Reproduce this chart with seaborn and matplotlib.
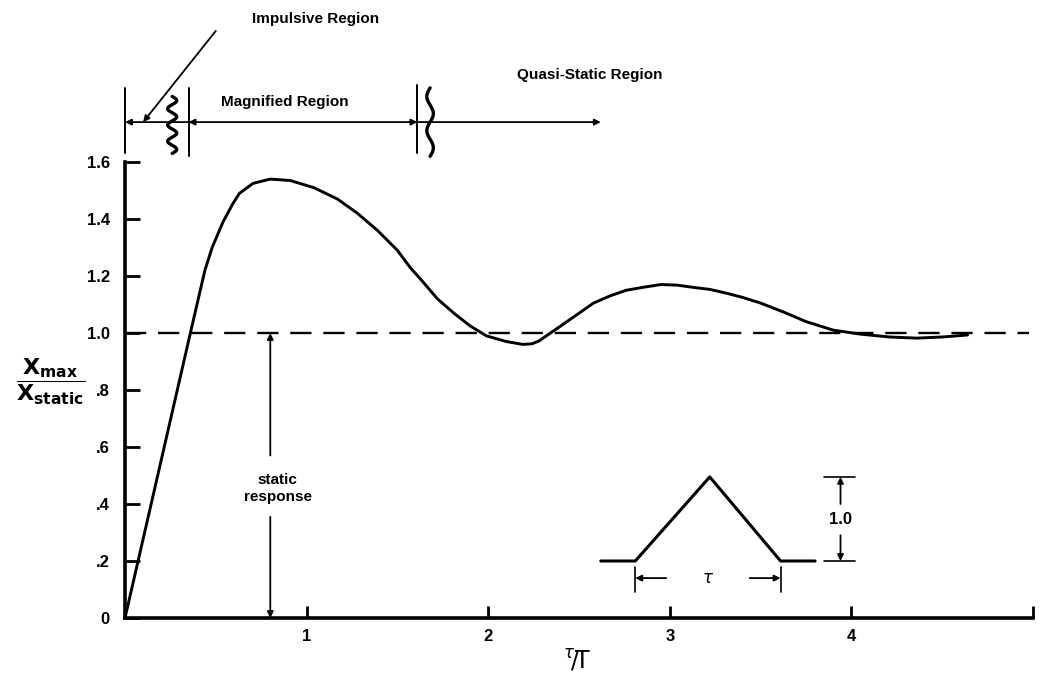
import numpy as np
import pandas as pd
import matplotlib
matplotlib.use("Agg")
import matplotlib.pyplot as plt
import seaborn as sns

# ---- data ----
ratio_t_T = [0.0, 0.36, 0.44, 0.48, 0.54, 0.595, 0.63, 0.705, 0.80, 0.91, 1.04,
             1.17, 1.28, 1.39, 1.50, 1.57, 1.64, 1.72, 1.81, 1.90, 1.99, 2.10,
             2.19, 2.24, 2.28, 2.32, 2.40, 2.49, 2.58, 2.67, 2.76, 2.85, 2.95, 3.04,
             3.13, 3.22, 3.31, 3.40, 3.50, 3.64, 3.75, 3.90, 4.05, 4.21, 4.36,
             4.50, 4.64]
response = [0.0, 1.00, 1.22, 1.30, 1.39, 1.455, 1.49, 1.525, 1.54, 1.535, 1.51,
            1.47, 1.42, 1.36, 1.29, 1.23, 1.18, 1.12, 1.07, 1.025, 0.99, 0.97,
            0.96, 0.962, 0.972, 0.99, 1.025, 1.065, 1.105, 1.13, 1.15, 1.16, 1.17,
            1.168, 1.16, 1.153, 1.14, 1.125, 1.105, 1.07, 1.04, 1.01, 0.996, 0.986,
            0.982, 0.986, 0.993]
static_level = 1.0
xtick_vals = [1, 2, 3, 4, 5]
xtick_labels = ["1", "2", "3", "4", ""]
ytick_vals = [0, 0.2, 0.4, 0.6, 0.8, 1.0, 1.2, 1.4, 1.6]
ytick_labels = ["0", ".2", ".4", ".6", ".8", "1.0", "1.2", "1.4", "1.6"]
pulse_x = [2.62, 2.81, 3.22, 3.61, 3.80]
pulse_y = [0.20, 0.20, 0.495, 0.20, 0.20]

sns.set_style("white")
plt.rcParams["font.family"] = ["Liberation Sans", "DejaVu Sans"]
plt.rcParams["mathtext.fontset"] = "dejavusans"
plt.rcParams["text.color"] = "black"

fig = plt.figure(figsize=(10.52, 6.74), dpi=100)
ax = fig.add_axes([125 / 1052, 1 - 618 / 674, (1033 - 125) / 1052, (618 - 162) / 674])

df = pd.DataFrame({"x": ratio_t_T, "y": response})
sns.lineplot(data=df, x="x", y="y", ax=ax, color="black", lw=2.1, sort=False)
ax.axhline(static_level, xmin=0, xmax=4.98 / 5, color="black", lw=1.7,
           dashes=(9, 5))

ax.set_xlim(0, 5)
ax.set_ylim(0, 1.6)
for s in ["top", "right"]:
    ax.spines[s].set_visible(False)
for s in ["left", "bottom"]:
    ax.spines[s].set_linewidth(2.6)
    ax.spines[s].set_color("black")

ax.set_xticks(xtick_vals)
ax.set_xticklabels(xtick_labels, fontsize=12, fontweight="bold")
ax.set_yticks(ytick_vals)
ax.set_yticklabels(ytick_labels, fontsize=12, fontweight="bold")
ax.tick_params(axis="y", direction="in", length=11, width=2, pad=11,
               colors="black", left=True)
ax.tick_params(axis="x", direction="in", length=9, width=2, pad=8,
               colors="black", bottom=True)
ax.set_xlabel("")
ax.set_ylabel("")

# axis labels
ax.text(-0.41, 0.83, r"$\dfrac{\mathbf{X}_{\mathbf{max}}}{\mathbf{X}_{\mathbf{static}}}$",
        fontsize=16, ha="center", va="center", color="black")
ax.text(2.49, -0.15, r"$^{\tau}\!/\!\mathrm{T}$", fontsize=17, ha="center",
        va="center", family="DejaVu Serif", color="black")

arr = dict(arrowstyle="-|>", color="black", lw=1.3, mutation_scale=9,
           shrinkA=0, shrinkB=0)
arr2 = dict(arrowstyle="<|-|>", color="black", lw=1.3, mutation_scale=9,
            shrinkA=0, shrinkB=0)

# static response arrows
ax.annotate("", xy=(0.80, 1.0), xytext=(0.80, 0.57), arrowprops=arr)
ax.annotate("", xy=(0.80, 0.0), xytext=(0.80, 0.355), arrowprops=arr)
ax.text(0.84, 0.455, "static\nresponse", ha="center", va="center",
        fontsize=11, fontweight="bold", linespacing=1.3, color="black")

# inset pulse
ax.plot(pulse_x, pulse_y, color="black", lw=2.2)
ax.plot([3.85, 4.02], [0.495, 0.495], color="black", lw=1.2)
ax.plot([3.85, 4.02], [0.20, 0.20], color="black", lw=1.2)
ax.annotate("", xy=(3.94, 0.495), xytext=(3.94, 0.40), arrowprops=arr)
ax.annotate("", xy=(3.94, 0.20), xytext=(3.94, 0.29), arrowprops=arr)
ax.text(3.94, 0.345, "1.0", ha="center", va="center", fontsize=12,
        fontweight="bold", color="black")
ax.plot([2.81, 2.81], [0.09, 0.18], color="black", lw=1.2)
ax.plot([3.61, 3.61], [0.09, 0.18], color="black", lw=1.2)
ax.annotate("", xy=(2.81, 0.14), xytext=(2.98, 0.14), arrowprops=arr)
ax.annotate("", xy=(3.61, 0.14), xytext=(3.44, 0.14), arrowprops=arr)
ax.text(3.21, 0.14, r"$\tau$", ha="center", va="center", fontsize=12, color="black")

# top region annotations (outside axes)
kw = dict(color="black", lw=1.4, clip_on=False)
for xv, y0, y1 in [(0.0, 1.63, 1.86), (0.35, 1.62, 1.86), (1.61, 1.63, 1.87)]:
    ax.plot([xv, xv], [y0, y1], **kw)
ax.annotate("", xy=(0.0, 1.74), xytext=(0.35, 1.74), arrowprops=arr,
            annotation_clip=False)
ax.annotate("", xy=(0.35, 1.74), xytext=(1.61, 1.74), arrowprops=arr2,
            annotation_clip=False)
ax.annotate("", xy=(2.62, 1.74), xytext=(1.61, 1.74), arrowprops=arr,
            annotation_clip=False)
ax.annotate("", xy=(0.10, 1.74), xytext=(0.50, 2.06), arrowprops=arr,
            annotation_clip=False)

# decorative break squiggles
t = np.linspace(0, 1, 80)
ax.plot(0.26 + 0.025 * np.sin(t * 2 * np.pi * 3.5), 1.63 + 0.20 * t,
        color="black", lw=2.4, clip_on=False)
ax.plot(1.68 + 0.018 * np.sin(t * 2 * np.pi * 2.0), 1.62 + 0.24 * t,
        color="black", lw=2.4, clip_on=False)

ax.text(1.05, 2.10, "Impulsive Region", ha="center", va="center",
        fontsize=11, fontweight="bold", clip_on=False, color="black")
ax.text(0.88, 1.81, "Magnified Region", ha="center", va="center",
        fontsize=11, fontweight="bold", clip_on=False, color="black")
ax.text(2.56, 1.905, "Quasi-Static Region", ha="center", va="center",
        fontsize=11, fontweight="bold", clip_on=False, color="black")

fig.savefig("out.png", dpi=100, facecolor="white")
